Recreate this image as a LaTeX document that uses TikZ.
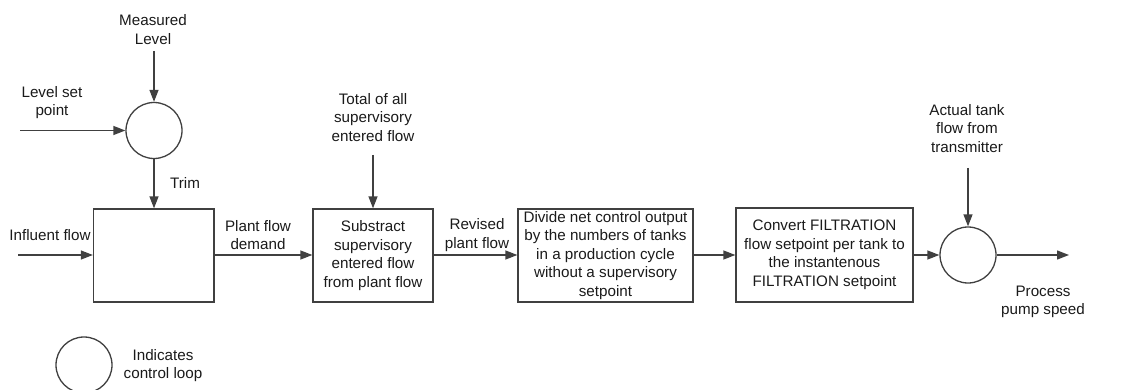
\documentclass[tikz,border=0pt]{standalone}
\usepackage{fontspec}
\setmainfont{Liberation Sans}
\usetikzlibrary{arrows.meta}
\definecolor{ln}{HTML}{404040}
\definecolor{tx}{HTML}{1A1A1A}
\begin{document}
\begin{tikzpicture}[x=1pt,y=-1pt,
  lbl/.style={inner sep=0pt,align=center,text=tx,font=\fontsize{15.2}{18.5}\selectfont},
  blk/.style={draw=ln,line width=1.3pt,inner sep=0pt,align=center,text=tx,font=\fontsize{15.2}{18.5}\selectfont},
  loop/.style={draw=ln,line width=1.3pt,circle,minimum size=56pt,inner sep=0pt},
  flow/.style={draw=ln,line width=1.3pt,-{Triangle[length=12pt,width=9pt]}},
  plain/.style={draw=ln,line width=1.3pt}]
\useasboundingbox (0,0) rectangle (1123,390);
% control loop 1
\node[loop] (c1) at (154,130.5) {};
\node[lbl] (meas) at (153,29.5) {Measured\\Level};
\coordinate (measend) at (154,51);
\node[lbl] (lsp) at (52,102.5) {Level set\\point};
\coordinate (lspend) at (20,130.5);
% blocks
\node[blk,minimum width=120.5pt,minimum height=93pt] (b1) at (153.75,255.5) {};
\node[blk,minimum width=120pt,minimum height=93pt] (b2) at (373,255.5) {Substract\\supervisory\\entered flow\\from plant flow};
\node[blk,minimum width=175pt,minimum height=93pt] (b3) at (605.5,255.5) {Divide net control output\\by the numbers of tanks\\in a production cycle\\without a supervisory\\setpoint};
\node[blk,minimum width=177pt,minimum height=94pt] (b4) at (824.5,255) {Convert FILTRATION\\flow setpoint per tank to\\the instantenous\\FILTRATION setpoint};
% control loop 2
\node[loop] (c2) at (968,255) {};
\node[lbl] (act) at (967,128.5) {Actual tank\\flow from\\transmitter};
\coordinate (actend) at (968,168);
% labels
\node[lbl] (trim) at (185,183) {Trim};
\node[lbl] (infl) at (50,235) {Influent flow};
\coordinate (inflend) at (18,255);
\node[lbl] (pfd) at (258,235) {Plant flow\\demand};
\node[lbl] (tot) at (373,117.5) {Total of all\\supervisory\\entered flow};
\coordinate (totend) at (373,155);
\node[lbl] (rpf) at (477,235) {Revised\\plant flow};
\node[lbl] (pps) at (1043,302) {Process\\pump speed};
\coordinate (ppsend) at (1069,255);
% legend
\node[loop] (leg) at (84,365) {};
\node[lbl] (legt) at (163,365.5) {Indicates\\control loop};
% connectors
\draw[flow] (measend) -- (c1.north);
\draw[flow] (lspend) -- (c1.west);
\draw[flow] (c1.south) -- (c1.south |- b1.north);
\draw[flow] (inflend) -- (b1.west |- inflend);
\draw[flow] (b1.east |- inflend) -- (b2.west |- inflend);
\draw[flow] (totend) -- (b2.north);
\draw[flow] (b2.east |- inflend) -- (b3.west |- inflend);
\draw[flow] (b3.east |- inflend) -- (b4.west |- inflend);
\draw[flow] (b4.east |- inflend) -- (c2.west);
\draw[flow] (actend) -- (c2.north);
\draw[flow] (c2.east) -- (ppsend);
\end{tikzpicture}
\end{document}
